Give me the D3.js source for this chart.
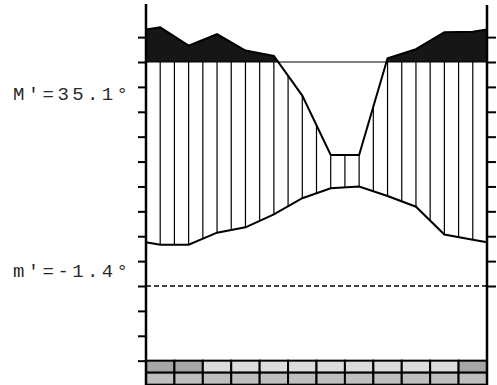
<!DOCTYPE html>
<html><head><meta charset="utf-8">
<script src="https://cdn.jsdelivr.net/npm/d3@7"></script>
<style>html,body{margin:0;padding:0;background:#fff;overflow:hidden}</style>
</head><body><svg id="c" width="497" height="385"></svg>
<script>
// ---- data ----
const months = ["Jan","Feb","Mar","Apr","May","Jun","Jul","Aug","Sep","Oct","Nov","Dec"];
const temperature = [9.2, 9.2, 11.9, 13.1, 16.0, 19.6, 21.8, 22.2, 20.1, 17.7, 11.5, 10.3]; // °C
const precipitation = [255, 173, 224, 151, 127, 85, 58.5, 58.5, 117, 157, 233, 235];     // mm
const frostTop = [2, 2, 1, 1, 1, 1, 1, 1, 1, 1, 1, 2];    // 2 = sure, 1 = probable
const frostBottom = [1, 1, 1, 1, 1, 1, 1, 1, 1, 1, 1, 1];
const labelMax = "M'=35.1°";
const labelMin = "m'=-1.4°";

// ---- layout ----
const svg = d3.select("#c");
const x = d3.scaleLinear().domain([0, 12]).range([146, 487]);
const yT = d3.scaleLinear().domain([0, 50]).range([286, 62]);      // temperature scale (10°C = 20 mm)
const pEq = p => p <= 100 ? p / 2 : 50 + (p - 100) / 20;            // above 100 mm compressed 1/10
const step = 50 / 9;
const leftTicks = d3.range(-3, 11).map(k => k * step);
const rightTicks = d3.range(0, 11).map(k => k * step);

// polyline points incl. edges (mean of Dec & Jan)
const px = [0, ...months.map((m, i) => i + 0.5), 12];
const tEdge = (temperature[0] + temperature[11]) / 2;
const pEdge = (pEq(precipitation[0]) + pEq(precipitation[11])) / 2;
const tPts = [tEdge, ...temperature, tEdge];
const pPts = [pEdge, ...precipitation.map(pEq), pEdge];
const tInterp = d3.scaleLinear().domain(px).range(tPts);
const pInterp = d3.scaleLinear().domain(px).range(pPts);

// frost boxes
const frostCol = {top: {1: "#dcdcdc", 2: "#a6a6a6"}, bottom: {1: "#bebebe", 2: "#a6a6a6"}};
const yBox = yT(leftTicks[0]);
svg.append("g").selectAll("rect").data(frostTop).join("rect")
  .attr("x", (d, i) => x(i)).attr("y", yBox).attr("width", x(1) - x(0)).attr("height", 12)
  .attr("fill", d => frostCol.top[d]).attr("stroke", "#000").attr("stroke-width", 2);
svg.append("g").selectAll("rect").data(frostBottom).join("rect")
  .attr("x", (d, i) => x(i)).attr("y", yBox + 12).attr("width", x(1) - x(0)).attr("height", 12)
  .attr("fill", d => frostCol.bottom[d]).attr("stroke", "#000").attr("stroke-width", 2);

// hatching (humid period)
const hx = d3.range(0, 23).map(k => 0.5 + k * 0.5);
svg.append("g").selectAll("line").data(hx).join("line")
  .attr("x1", d => x(d)).attr("x2", d => x(d))
  .attr("y1", d => yT(Math.min(pInterp(d), 50)))
  .attr("y2", d => yT(tInterp(d)))
  .attr("stroke", "#000").attr("stroke-width", 1.2);

// black area above 100 mm
svg.append("clipPath").attr("id", "above").append("rect")
  .attr("x", x(0)).attr("y", 0).attr("width", x(12) - x(0)).attr("height", yT(50));
svg.append("path").datum(px)
  .attr("clip-path", "url(#above)")
  .attr("d", d3.area().x(d => x(d)).y0(yT(50)).y1((d, i) => yT(pPts[i])))
  .attr("fill", "#161616");

// 100 mm line
svg.append("line").attr("x1", x(0)).attr("x2", x(12)).attr("y1", yT(50)).attr("y2", yT(50))
  .attr("stroke", "#000").attr("stroke-width", 1);
// 0 line dashed
svg.append("line").attr("x1", x(0)).attr("x2", x(12)).attr("y1", yT(0)).attr("y2", yT(0))
  .attr("stroke", "#000").attr("stroke-width", 1.5).attr("stroke-dasharray", "5,3");

// precipitation & temperature curves
svg.append("path").datum(px)
  .attr("d", d3.line().x(d => x(d)).y((d, i) => yT(pPts[i])))
  .attr("fill", "none").attr("stroke", "#000").attr("stroke-width", 2);
svg.append("path").datum(px)
  .attr("d", d3.line().x(d => x(d)).y((d, i) => yT(tPts[i])))
  .attr("fill", "none").attr("stroke", "#000").attr("stroke-width", 2);

// axes
const gl = svg.append("g").attr("transform", `translate(${x(0)},0)`)
  .call(d3.axisLeft(yT).tickValues(leftTicks).tickFormat("").tickSize(8).tickSizeOuter(0));
gl.select(".domain").remove();
gl.selectAll("line").attr("stroke", "#000").attr("stroke-width", 2);
const gr = svg.append("g").attr("transform", `translate(${x(12)},0)`)
  .call(d3.axisRight(yT).tickValues(rightTicks).tickFormat("").tickSize(9).tickSizeOuter(0));
gr.select(".domain").remove();
gr.selectAll("line").attr("stroke", "#000").attr("stroke-width", 2);
svg.append("line").attr("x1", x(0)).attr("x2", x(0)).attr("y1", 4).attr("y2", 385)
  .attr("stroke", "#000").attr("stroke-width", 2.5);
svg.append("line").attr("x1", x(12)).attr("x2", x(12)).attr("y1", 5).attr("y2", 385)
  .attr("stroke", "#000").attr("stroke-width", 2.5);

// labels
const lab = (t, y) => svg.append("text").text(t).attr("x", 13).attr("y", y)
  .attr("font-family", "Liberation Mono, monospace").attr("font-size", 19)
  .attr("letter-spacing", 3.4).attr("fill", "#2a2a2a");
lab(labelMax, 100);
lab(labelMin, 277);
</script></body></html>
